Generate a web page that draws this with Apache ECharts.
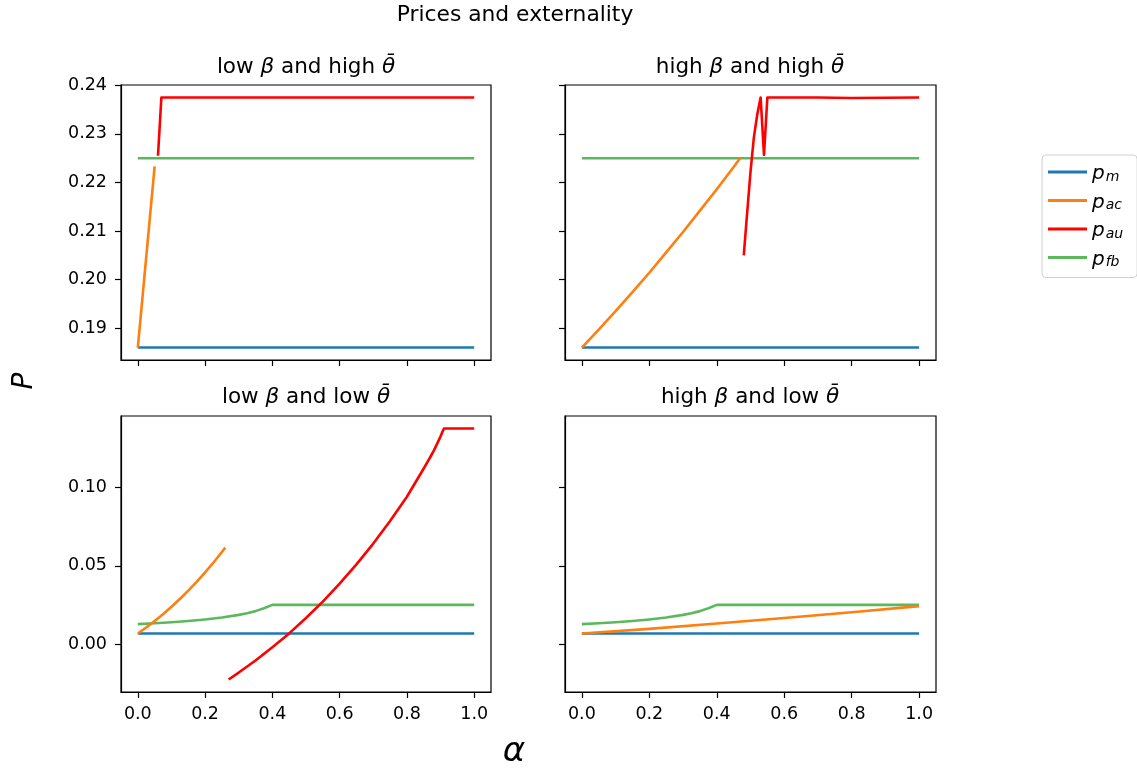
<!DOCTYPE html>
<html>
<head>
<meta charset="utf-8">
<script src="https://cdn.jsdelivr.net/npm/echarts@6/dist/echarts.min.js"></script>
<style>
html,body{margin:0;padding:0;background:#fff;}
#chart{width:1137px;height:769px;}
</style>
</head>
<body>
<div id="chart"></div>
<script>
// ---- tick labels ----
const alphaTicks = [0, 0.2, 0.4, 0.6, 0.8, 1.0];
const topTicks = [0.19, 0.20, 0.21, 0.22, 0.23, 0.24];
const bottomTicks = [0, 0.05, 0.10];
const seriesNames = ['pm', 'pac', 'pau', 'pfb'];
const subscripts = {pm: 'm', pac: 'ac', pau: 'au', pfb: 'fb'};

// ---- panel 1: low beta, high theta ----
const tl_pm_x = [0, 1.0];
const tl_pm_y = [0.186, 0.186];
const tl_pac_x = [0, 0.05];
const tl_pac_y = [0.186, 0.2233];
const tl_pau_x = [0.06, 0.07, 1.0];
const tl_pau_y = [0.2255, 0.2375, 0.2375];
const tl_pfb_x = [0, 1.0];
const tl_pfb_y = [0.225, 0.225];

// ---- panel 2: high beta, high theta ----
const tr_pm_x = [0, 1.0];
const tr_pm_y = [0.186, 0.186];
const tr_pac_x = [0, 0.05, 0.10, 0.15, 0.20, 0.25, 0.30, 0.35, 0.40, 0.45, 0.47];
const tr_pac_y = [0.186, 0.1897, 0.1935, 0.1974, 0.2014, 0.2056, 0.2098, 0.2142, 0.2186, 0.2232, 0.2251];
const tr_pau_x = [0.48, 0.49, 0.50, 0.51, 0.52, 0.53, 0.54, 0.55, 0.70, 0.80, 1.0];
const tr_pau_y = [0.205, 0.2137, 0.2222, 0.2293, 0.2340, 0.2375, 0.2257, 0.2375, 0.2375, 0.2374, 0.2375];
const tr_pfb_x = [0, 1.0];
const tr_pfb_y = [0.225, 0.225];

// ---- panel 3: low beta, low theta ----
const bl_pm_x = [0, 1.0];
const bl_pm_y = [0.0068, 0.0068];
const bl_pac_x = [0, 0.025, 0.05, 0.075, 0.10, 0.125, 0.15, 0.175, 0.20, 0.225, 0.25, 0.26];
const bl_pac_y = [0.0068, 0.01065, 0.01475, 0.01916, 0.02385, 0.02885, 0.03416, 0.0398, 0.04578, 0.05212, 0.05884, 0.06161];
const bl_pau_x = [0.27, 0.30, 0.35, 0.40, 0.45, 0.50, 0.55, 0.60, 0.65, 0.70, 0.75, 0.80, 0.85, 0.86, 0.87, 0.88, 0.89, 0.90, 0.91, 1.0];
const bl_pau_y = [-0.0225, -0.0181, -0.0104, -0.0019, 0.0069, 0.0167, 0.0272, 0.0386, 0.0509, 0.0642, 0.0786, 0.0941, 0.1121, 0.1158, 0.1196, 0.1235, 0.1280, 0.1326, 0.1376, 0.1376];
const bl_pfb_x = [0, 0.05, 0.10, 0.15, 0.20, 0.25, 0.30, 0.325, 0.35, 0.375, 0.40, 1.0];
const bl_pfb_y = [0.0128, 0.0134, 0.0140, 0.0148, 0.0158, 0.0170, 0.0187, 0.0198, 0.0211, 0.0229, 0.0251, 0.0251];

// ---- panel 4: high beta, low theta ----
const br_pm_x = [0, 1.0];
const br_pm_y = [0.0068, 0.0068];
const br_pac_x = [0, 0.2, 0.4, 0.6, 0.8, 1.0];
const br_pac_y = [0.0068, 0.0098, 0.0132, 0.0167, 0.0204, 0.0243];
const br_pfb_x = [0, 0.05, 0.10, 0.15, 0.20, 0.25, 0.30, 0.325, 0.35, 0.375, 0.40, 1.0];
const br_pfb_y = [0.0128, 0.0134, 0.0140, 0.0148, 0.0158, 0.0170, 0.0187, 0.0198, 0.0211, 0.0229, 0.0251, 0.0251];

const colors = {pm: '#1f77b4', pac: '#ff7f0e', pau: '#ff0000', pfb: '#5cb85c'};
const FONT = 'DejaVu Sans';

function pairs(xs, ys) { return xs.map((x, i) => [x, ys[i]]); }
function line(name, xs, ys, idx) {
  return {
    type: 'line', name: name, data: pairs(xs, ys),
    xAxisIndex: idx, yAxisIndex: idx,
    showSymbol: false, symbol: 'none',
    lineStyle: {width: 2.6, color: colors[name], join: 'round', cap: 'butt'},
    itemStyle: {color: colors[name]},
    animation: false, z: name === 'pfb' ? 1 : 2
  };
}

const grids = [
  {left: 121, top: 85, width: 370, height: 275},
  {left: 565, top: 85, width: 371, height: 275},
  {left: 121, top: 416, width: 370, height: 276},
  {left: 565, top: 416, width: 371, height: 276}
].map(g => Object.assign(g, {show: true, borderColor: '#000', borderWidth: 1.2, backgroundColor: 'transparent', containLabel: false}));

function xAxis(idx, showLabels) {
  return {
    type: 'value', gridIndex: idx, min: -0.05, max: 1.05,
    axisLine: {show: true, onZero: false, lineStyle: {color: '#000', width: 1.2}},
    axisTick: {show: true, length: 6, customValues: alphaTicks, lineStyle: {color: '#000', width: 1.2}},
    axisLabel: {show: showLabels, customValues: alphaTicks, margin: 13, color: '#000', fontSize: 17.5, fontFamily: FONT,
      formatter: v => v.toFixed(1)},
    splitLine: {show: false}
  };
}
function yAxis(idx, top, showLabels) {
  const ticks = top ? topTicks : bottomTicks;
  return {
    type: 'value', gridIndex: idx,
    min: top ? 0.18343 : -0.0305, max: top ? 0.24008 : 0.1456,
    axisLine: {show: true, onZero: false, lineStyle: {color: '#000', width: 1.2}},
    axisTick: {show: true, length: 6, customValues: ticks, lineStyle: {color: '#000', width: 1.2}},
    axisLabel: {show: showLabels, customValues: ticks, margin: 14, color: '#000', fontSize: 17.5, fontFamily: FONT,
      formatter: v => v.toFixed(2)},
    splitLine: {show: false}
  };
}

const mathRich = {
  i: {fontStyle: 'italic', fontFamily: FONT, fontSize: 21.5, color: '#000'}
};

function panelTitle(x, y, pre, mid) {
  return {
    type: 'text', x: x, y: y,
    style: {
      text: pre + ' {i|β} and ' + mid + ' {i|θ\u0304}',
      rich: mathRich,
      font: '21.5px "DejaVu Sans"', fill: '#000',
      textAlign: 'center', textVerticalAlign: 'middle'
    }
  };
}

const option = {
  animation: false,
  backgroundColor: '#fff',
  grid: grids,
  xAxis: [xAxis(0, false), xAxis(1, false), xAxis(2, true), xAxis(3, true)],
  yAxis: [yAxis(0, true, true), yAxis(1, true, false), yAxis(2, false, true), yAxis(3, false, false)],
  legend: {
    orient: 'vertical', left: 1042, top: 155,
    data: seriesNames,
    icon: 'rect', itemWidth: 39, itemHeight: 3, itemGap: 7.5,
    padding: [8, 14, 8, 6],
    borderColor: '#d0d0d0', borderWidth: 1, borderRadius: 4,
    backgroundColor: '#fff',
    formatter: n => '{p|p}{s|' + subscripts[n] + '}',
    textStyle: {
      rich: {
        p: {fontStyle: 'italic', fontFamily: FONT, fontSize: 20, color: '#000', lineHeight: 24, verticalAlign: 'bottom'},
        s: {fontStyle: 'italic', fontFamily: FONT, fontSize: 14, color: '#000', lineHeight: 24, verticalAlign: 'bottom', padding: [7, 0, 0, 1]}
      }
    },
    selectedMode: false
  },
  graphic: [
    {type: 'text', x: 515, y: 15, style: {text: 'Prices and externality', font: '21.8px "DejaVu Sans"', fill: '#000', textAlign: 'center', textVerticalAlign: 'middle'}},
    panelTitle(306, 67, 'low', 'high'),
    panelTitle(750, 67, 'high', 'high'),
    panelTitle(306, 397, 'low', 'low'),
    panelTitle(750, 397, 'high', 'low'),
    {type: 'text', x: 514, y: 752, style: {text: 'α', font: 'italic 34px "DejaVu Sans"', fill: '#000', textAlign: 'center', textVerticalAlign: 'middle'}},
    {type: 'text', x: 25, y: 381, rotation: Math.PI / 2, style: {text: 'P', font: 'italic 28px "DejaVu Sans"', fill: '#000', textAlign: 'center', textVerticalAlign: 'middle'}}
  ],
  series: [
    line('pm', tl_pm_x, tl_pm_y, 0),
    line('pac', tl_pac_x, tl_pac_y, 0),
    line('pau', tl_pau_x, tl_pau_y, 0),
    line('pfb', tl_pfb_x, tl_pfb_y, 0),
    line('pm', tr_pm_x, tr_pm_y, 1),
    line('pac', tr_pac_x, tr_pac_y, 1),
    line('pau', tr_pau_x, tr_pau_y, 1),
    line('pfb', tr_pfb_x, tr_pfb_y, 1),
    line('pm', bl_pm_x, bl_pm_y, 2),
    line('pac', bl_pac_x, bl_pac_y, 2),
    line('pau', bl_pau_x, bl_pau_y, 2),
    line('pfb', bl_pfb_x, bl_pfb_y, 2),
    line('pm', br_pm_x, br_pm_y, 3),
    line('pac', br_pac_x, br_pac_y, 3),
    line('pfb', br_pfb_x, br_pfb_y, 3)
  ]
};

const chart = echarts.init(document.getElementById('chart'), null, {renderer: 'canvas'});
chart.setOption(option);
</script>
</body>
</html>
